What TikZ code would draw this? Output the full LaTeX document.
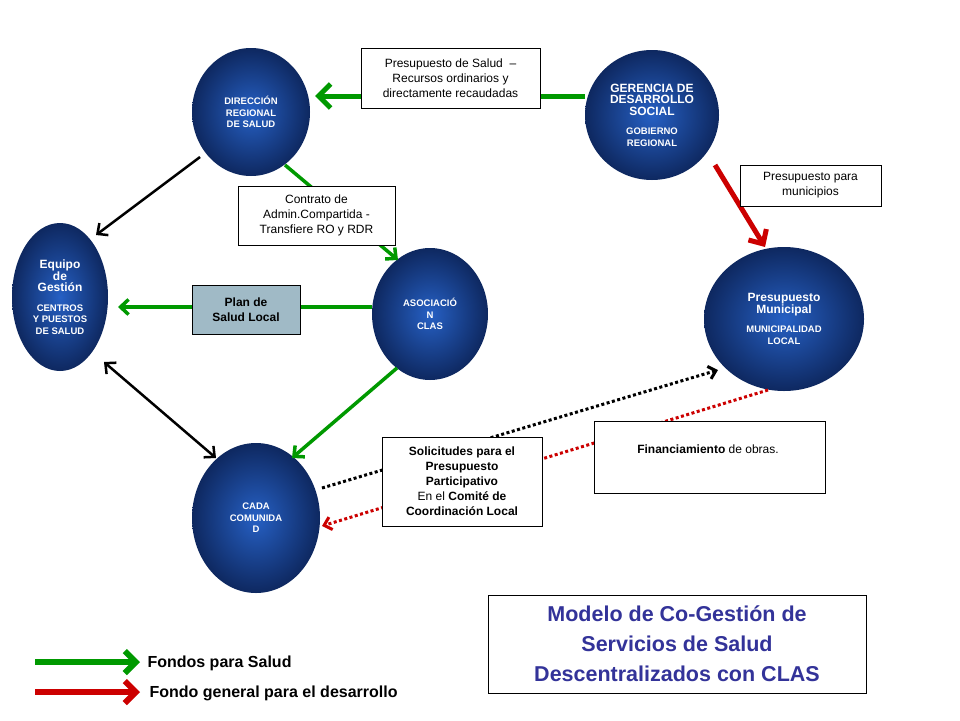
\documentclass[tikz,border=0pt]{standalone}
\usepackage{fontspec}
\setmainfont{Liberation Sans}
\usetikzlibrary{arrows.meta,shapes.geometric}
\definecolor{gr}{RGB}{0,153,0}
\definecolor{rd}{RGB}{204,0,0}
\definecolor{navy}{RGB}{14,40,96}
\definecolor{mid}{RGB}{38,96,196}
\definecolor{ttl}{RGB}{51,51,153}
\definecolor{plan}{RGB}{160,186,198}
\tikzset{
 ell/.style={ellipse,inner color=mid,outer color=navy,draw=none,text=white,font=\fontsize{9.5}{11.5}\selectfont\bfseries,align=center,inner sep=0pt},
 big/.style={font=\fontsize{12}{14}\selectfont\bfseries},
 box/.style={draw,fill=white,align=center,font=\fontsize{12}{15}\selectfont,inner sep=0pt},
 garr/.style={gr,line width=5pt,-{Straight Barb[length=12pt,width=24pt]}},
 thin g/.style={gr,line width=3.5pt,-{Straight Barb[length=8pt,width=15pt]}},
 blk/.style={black,line width=2.5pt,-{Straight Barb[length=8pt,width=15pt]}},
 dotb/.style={black,line width=3pt,dash pattern=on 3pt off 2.5pt,-{Straight Barb[length=7pt,width=13pt]}},
 dotr/.style={rd,line width=3pt,dash pattern=on 3pt off 2.5pt,-{Straight Barb[length=7pt,width=13pt]}},
}
\begin{document}
\begin{tikzpicture}[x=1pt,y=-1pt]
\useasboundingbox[fill=white] (0,0) rectangle (960,720);
\node[ell,minimum width=118,minimum height=128] (drs) at (251,112) {DIRECCIÓN\\REGIONAL\\DE SALUD};
\node[ell,minimum width=134,minimum height=130] (ger) at (652,115) {\fontsize{12}{14}\selectfont GERENCIA DE\\\fontsize{12}{14}\selectfont DESARROLLO\\\fontsize{12}{14}\selectfont SOCIAL\\[8pt]GOBIERNO\\REGIONAL};
\node[ell,minimum width=96,minimum height=148] (eq) at (60,297) {\fontsize{12}{14}\selectfont Equipo\\\fontsize{12}{14}\selectfont de\\\fontsize{12}{14}\selectfont Gestión\\[8pt]CENTROS\\Y PUESTOS\\DE SALUD};
\node[ell,minimum width=116,minimum height=132] (clas) at (430,314) {ASOCIACIÓ\\N\\CLAS};
\node[ell,minimum width=160,minimum height=144] (mun) at (784,319) {\fontsize{12}{14}\selectfont Presupuesto\\\fontsize{12}{14}\selectfont Municipal\\[8pt]MUNICIPALIDAD\\LOCAL};
\node[ell,minimum width=128,minimum height=150] (cada) at (256,518) {CADA\\COMUNIDA\\D};
% connectors and boxes
\coordinate (g1) at (585,96); \coordinate (g2) at (315,96);
\draw[garr] (g1) -- (g2);
\node[box,minimum width=179,minimum height=60] (b1) at (450.5,78) {Presupuesto de Salud \ --\\Recursos ordinarios y\\directamente recaudadas};
\coordinate (c1) at (285,165); \coordinate (c2) at (398,260);
\draw[thin g] (c1) -- (c2);
\node[box,minimum width=157,minimum height=59] (b2) at (316.5,215.5) {Contrato de\\Admin.Compartida -\\Transfiere RO y RDR};
\coordinate (p1) at (372,307); \coordinate (p2) at (118,307);
\draw[thin g] (p1) -- (p2);
\node[box,fill=plan,minimum width=108,minimum height=49,font=\fontsize{12}{15}\selectfont\bfseries] (plan) at (246,309.5) {Plan de\\Salud Local};
\coordinate (q1) at (397,368); \coordinate (q2) at (292,458);
\draw[thin g] (q1) -- (q2);
\coordinate (r1) at (715,165); \coordinate (r2) at (765,247);
\draw[rd,line width=5pt,-{Straight Barb[length=11pt,width=21pt]}] (r1) -- (r2);
\node[box,minimum width=141,minimum height=41] (b3) at (810.5,185.5) {Presupuesto para\\municipios};
\coordinate (k1) at (200,157); \coordinate (k2) at (96,235);
\draw[blk] (k1) -- (k2);
\coordinate (d1) at (104,362); \coordinate (d2) at (216,458);
\draw[blk,{Straight Barb[length=8pt,width=15pt]}-{Straight Barb[length=8pt,width=15pt]}] (d1) -- (d2);
\coordinate (s1) at (322,488); \coordinate (s2) at (718,370);
\draw[dotb] (s1) -- (s2);
\coordinate (f1) at (768,390); \coordinate (f2) at (322,526);
\draw[dotr] (f1) -- (f2);
\node[box,minimum width=160,minimum height=89,font=\fontsize{12}{15}\selectfont] (sol) at (462,481.5) {\textbf{Solicitudes para el}\\\textbf{Presupuesto}\\\textbf{Participativo}\\En el \textbf{Comité de}\\\textbf{Coordinación Local}};
\node[box,minimum width=231,minimum height=72,anchor=north west] (fin) at (594,421) {};
\node[font=\fontsize{12}{14}\selectfont] (fint) at (708,449) {\textbf{Financiamiento} de obras.};
\node[box,minimum width=378,minimum height=98,text=ttl,font=\fontsize{21.5}{30}\selectfont\bfseries] (ttl) at (677,644) {Modelo de Co-Gestión de\\Servicios de Salud\\Descentralizados con CLAS};
% legend
\coordinate (l1) at (35,662); \coordinate (l2) at (140,662);
\coordinate (l3) at (35,692); \coordinate (l4) at (140,692);
\draw[gr,line width=6pt,-{Straight Barb[length=11pt,width=22pt]}] (l1) -- (l2);
\draw[rd,line width=6pt,-{Straight Barb[length=11pt,width=22pt]}] (l3) -- (l4);
\node[anchor=west,font=\fontsize{16}{18}\selectfont\bfseries] (t1) at (144,663) {Fondos para Salud};
\node[anchor=west,font=\fontsize{16}{18}\selectfont\bfseries] (t2) at (146,693) {Fondo general para el desarrollo};
\end{tikzpicture}
\end{document}
